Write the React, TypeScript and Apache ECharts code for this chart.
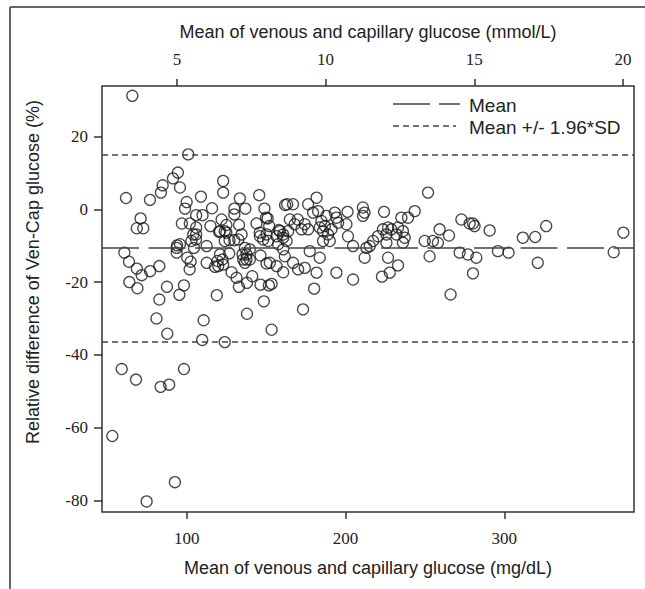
import React, { useEffect, useRef } from "react";
import * as echarts from "echarts";

// Bland-Altman style data: [mean glucose (mg/dL), relative difference (%)]
const pointsLow: [number, number][] = [
  [65.8, 31.2], [101, 15.1], [94.5, 10.1], [91.4, 8.5], [84.9, 6.6], [95.8, 6.0], [83.8, 4.6],
  [61.8, 3.1], [76.9, 2.6], [109, 3.5], [100, 2.0], [116, 0.3], [99, 0.2], [106, -1.6], [110, -1.6],
  [71, -2.5], [68.6, -5.2], [72.7, -5.2], [97, -3.9], [102, -3.9], [106, -5.0], [115, -4.6], [106, -6.9],
  [60.8, -11.9], [63.7, -14.4], [68.6, -16.3], [71.7, -18.1], [77, -17.0], [82.8, -15.6], [63.9, -20.0],
  [69, -21.7], [87.6, -21.3], [82.8, -24.8], [95.4, -23.5], [98.3, -20.9], [81, -30.0], [87.8, -34.2],
  [110.7, -30.5], [109.8, -35.9], [101.9, -16.5], [102.5, -14.4], [100.4, -13.3], [93.7, -11.9],
  [94, -9.9], [95.8, -9.6], [112.6, -14.7], [117.8, -15.8], [119.5, -14.2], [103, -8.7], [104.6, -10.6],
  [93.7, -10.6], [112.6, -10.1], [105.9, -8.3], [104.2, -6.9], [119.9, -15.6], [119, -23.6],
  [59.1, -43.9], [68.1, -46.8], [83.6, -48.8], [89, -48.2], [98.3, -43.9], [53.2, -62.3], [92.6, -75],
  [74.8, -80.3],
];

const pointsMid: [number, number][] = [
  [123, 7.8], [123, 4.6], [133.5, 3.0], [145.7, 3.9], [162, 1.2], [130, 0.2], [137, 0.2], [149, 0.2],
  [130, -1.4], [150, -2.3], [122, -2.8], [125, -4.3], [133, -4.3], [144, -3.9], [152, -4.6], [158, -5.7],
  [134.6, -6.9], [120.5, -6.2], [124, -36.5], [138, -28.7], [148.6, -25.3], [153.5, -33.1], [123, -15.2],
  [126.8, -12.1], [128.3, -17.3], [131.4, -18.8], [132.9, -21.3], [138, -20.2], [141.3, -18.4],
  [146.5, -20.7], [151.8, -20.9], [153.5, -20.5], [152.4, -14.7], [160.8, -17.3], [146.5, -12.7],
  [135.6, -13.8], [137.7, -12.4], [163.3, 1.4], [167, 1.4], [151, -2.5], [124, -6.0], [146, -6.4],
  [165, -2.8], [168, -4.1], [170, -2.8], [124, -8.7], [127, -8.5], [130, -8.5], [132.5, -8.3],
  [136.7, -10.6], [139.8, -11.0], [135.2, -12.4], [137.7, -13.8], [139.8, -13.8], [136.7, -14.7],
  [121, -12.4], [122.6, -13.8], [146.1, -7.4], [148.2, -8.3], [150.3, -6.9], [151.3, -8.7], [156.6, -7.4],
  [158.7, -6.0], [160.8, -7.8], [162.9, -8.7], [157.6, -9.6], [160.8, -11.0], [161.8, -12.9], [167, -14.7],
  [156.6, -15.6], [150.3, -14.9], [170.2, -16.5], [121, -6.0], [125, -6.4], [160.8, -6.9], [163.9, -6.0],
  [181.8, 3.2], [176.5, 1.4], [179.6, -0.9], [182.8, -0.5], [188, -1.8], [193.3, -0.9], [194.3, -2.3],
  [195.4, -3.7], [174.4, -4.1], [176.5, -5.5], [172.3, -5.5], [184.9, -3.2], [187, -4.6], [183.8, -5.0],
  [185.9, -6.0], [189, -6.9], [191.2, -5.5], [185.9, -8.7], [190.1, -8.7], [194.3, -17.4], [181.8, -17.4],
  [174.4, -16.1], [177.5, -11.5], [183.8, -13.3], [180.3, -21.8], [173.3, -27.5],
];

const pointsHigh: [number, number][] = [
  [252, 4.6], [211, 0.5], [212, -0.9], [211, -1.8], [224.3, -0.7], [243.6, -0.5], [239.4, -2.3],
  [235.2, -2.3], [201.3, -0.7], [200.6, -4.1], [201.6, -7.4], [204.8, -10.1], [213.2, -10.6],
  [215.3, -10.1], [217.4, -8.7], [220.5, -7.4], [223.6, -5.5], [226.8, -5.0], [225.8, -6.9], [228.9, -5.5],
  [232.1, -6.9], [233.1, -5.0], [236.2, -6.0], [237.3, -7.8], [236.2, -9.2], [225.8, -9.2], [249.9, -8.7],
  [255.1, -8.7], [258.2, -9.2], [259.3, -5.5], [253, -12.9], [212.1, -13.3], [226.8, -13.3], [233.1, -15.4],
  [227.9, -17.4], [223, -18.5], [204.8, -19.3], [273, -2.8], [278.2, -3.9], [280.3, -3.9], [281.3, -4.6],
  [290.8, -5.8], [265.2, -7.2], [271.9, -11.9], [277.1, -12.4], [282.4, -13.3], [296, -11.5], [302.7, -11.9],
  [280.3, -17.6], [266.2, -23.4], [311.7, -7.8], [319.5, -7.6], [326.4, -4.6], [321.1, -14.7], [368.9, -11.8],
  [375, -6.4],
];

const meanDiff = -10.6;
const upperLimit = 15.1;
const lowerLimit = -36.4;

const mgTicks = [100, 200, 300];
const mmolTicks = [5, 10, 15, 20];
const diffTicks = [-80, -60, -40, -20, 0, 20];

export default function App() {
  const ref = useRef<HTMLDivElement>(null);
  useEffect(() => {
    if (!ref.current) return;
    const chart = echarts.init(ref.current, undefined, { renderer: "svg" });
    const axisColor = "#333";
    const sans = "Liberation Sans";
    const serif = "Liberation Serif";
    const tickStyle = { color: axisColor, width: 1.5 };
    chart.setOption({
      animation: false,
      backgroundColor: "#fff",
      grid: {
        left: 102, top: 86, width: 532, height: 426,
        show: true, borderColor: axisColor, borderWidth: 1.5, backgroundColor: "transparent",
      },
      xAxis: [
        {
          type: "value", position: "bottom", min: 46.7, max: 381.7,
          axisLine: { show: false, onZero: false }, splitLine: { show: false },
          axisTick: { show: true, length: 7, lineStyle: tickStyle, customValues: mgTicks },
          axisLabel: { customValues: mgTicks, margin: 18, fontFamily: serif, fontSize: 17, color: "#222" },
          name: "Mean of venous and capillary glucose (mg/dL)", nameLocation: "middle", nameGap: 47,
          nameTextStyle: { fontFamily: sans, fontSize: 18, color: "#222" },
        },
        {
          type: "value", position: "top", min: 2.48, max: 20.37,
          axisLine: { show: false, onZero: false }, splitLine: { show: false },
          axisTick: { show: true, length: 7, lineStyle: tickStyle, customValues: mmolTicks },
          axisLabel: { customValues: mmolTicks, margin: 18, fontFamily: serif, fontSize: 17, color: "#222" },
          name: "Mean of venous and capillary glucose (mmol/L)", nameLocation: "middle", nameGap: 45,
          nameTextStyle: { fontFamily: sans, fontSize: 18, color: "#222" },
        },
      ],
      yAxis: {
        type: "value", min: -83.2, max: 33.9,
        axisLine: { show: false, onZero: false }, splitLine: { show: false },
        axisTick: { show: true, length: 8, lineStyle: tickStyle, customValues: diffTicks },
        axisLabel: { customValues: diffTicks, margin: 14, fontFamily: serif, fontSize: 17, color: "#222" },
      },
      series: [
        {
          type: "scatter",
          xAxisIndex: 0, yAxisIndex: 0,
          data: [...pointsLow, ...pointsMid, ...pointsHigh],
          symbol: "circle", symbolSize: 11,
          itemStyle: { color: "rgba(0,0,0,0)", borderColor: "#1a1a1a", borderWidth: 1.3 },
          markLine: {
            silent: true, symbol: ["none", "none"], label: { show: false },
            data: [
              { yAxis: meanDiff, lineStyle: { type: [37, 9.5], color: "#444", width: 1.6 } },
              { yAxis: upperLimit, lineStyle: { type: [6, 4], color: "#444", width: 1.6 } },
              { yAxis: lowerLimit, lineStyle: { type: [6, 4], color: "#444", width: 1.6 } },
            ],
          },
        },
      ],
      graphic: [
        { type: "line", shape: { x1: 10, y1: 7, x2: 645, y2: 7 }, style: { stroke: "#666", lineWidth: 2 } },
        { type: "line", shape: { x1: 10, y1: 7, x2: 10, y2: 589 }, style: { stroke: "#666", lineWidth: 2 } },
        {
          type: "text", x: 33, y: 272, rotation: Math.PI / 2,
          style: {
            text: "Relative difference of Ven-Cap glucose (%)", fontFamily: sans, fontSize: 18,
            fill: "#222", align: "center", verticalAlign: "middle",
          },
        },
        { type: "line", shape: { x1: 393, y1: 104, x2: 460, y2: 104 }, style: { stroke: "#444", lineWidth: 1.6, lineDash: [37, 9] } },
        { type: "text", x: 469, y: 105, style: { text: "Mean", fontFamily: sans, fontSize: 19, fill: "#222", verticalAlign: "middle" } },
        { type: "line", shape: { x1: 393, y1: 126, x2: 456, y2: 126 }, style: { stroke: "#444", lineWidth: 1.6, lineDash: [6, 4] } },
        { type: "text", x: 469, y: 127, style: { text: "Mean +/- 1.96*SD", fontFamily: sans, fontSize: 19, fill: "#222", verticalAlign: "middle" } },
      ],
    });
    return () => chart.dispose();
  }, []);
  return <div ref={ref} style={{ position: "fixed", left: 0, top: 0, width: 645, height: 589 }} />;
}
